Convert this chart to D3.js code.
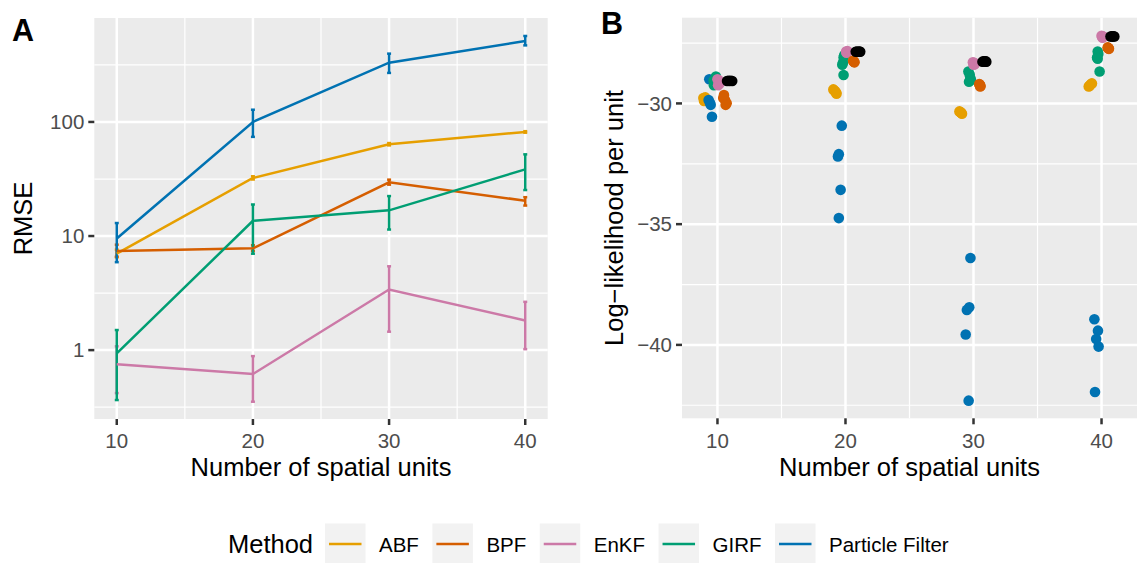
<!DOCTYPE html>
<meta charset="utf-8">
<style>
body { margin: 0; background: #fff; }
text { font-family: "Liberation Sans", Arial, sans-serif; }
.tick-label { font-size: 20.5px; fill: #4D4D4D; }
.axis-title { font-size: 25.5px; fill: #000; }
.tag { font-size: 30.5px; font-weight: bold; fill: #000; }
</style>
<svg width="1137" height="563" id="fig"></svg>
<script src="https://cdnjs.cloudflare.com/ajax/libs/d3/7.8.5/d3.min.js"></script>
<script>

// ---- data ----
var methods = ["ABF", "BPF", "EnKF", "GIRF", "Particle Filter"];
var methodColors = ["#E69F00", "#D55E00", "#CC79A7", "#009E73", "#0072B2"];
var nUnits = [10, 20, 30, 40];

// panel A : RMSE (mean, lower, upper) per method
var rmseABF  = [7.0, 32.3, 63.8, 81.7];
var rmseABFlo = [6.5, 31.3, 62.3, 80.5];
var rmseABFhi = [7.6, 33.4, 65.3, 83.0];
var rmseBPF  = [7.4, 7.8, 29.6, 20.4];
var rmseBPFlo = [6.6, 7.4, 28.2, 18.5];
var rmseBPFhi = [8.4, 8.3, 31.2, 21.9];
var rmseEnKF  = [0.75, 0.617, 3.40, 1.82];
var rmseEnKFlo = [0.42, 0.353, 1.45, 1.02];
var rmseEnKFhi = [1.08, 0.886, 5.43, 2.65];
var rmseGIRF  = [0.935, 13.6, 16.8, 38.4];
var rmseGIRFlo = [0.365, 7.0, 11.4, 25.3];
var rmseGIRFhi = [1.5, 18.9, 22.4, 52];
var rmsePF  = [9.5, 100, 331, 512];
var rmsePFlo = [5.9, 74, 269, 469];
var rmsePFhi = [13.0, 128, 397, 567];

// panel B : log-likelihood per unit, [jittered N, value]
var llABF = [[8.9,-29.78],[9.0,-29.82],[8.95,-29.9],[9.05,-29.75],[9.0,-29.85],
  [19.05,-29.42],[19.12,-29.46],[19.2,-29.5],[19.27,-29.56],[19.3,-29.6],
  [28.9,-30.33],[29.0,-30.37],[29.05,-30.4],[29.1,-30.43],[28.95,-30.36],
  [39.0,-29.3],[39.05,-29.28],[39.1,-29.25],[39.18,-29.2],[39.25,-29.17]];
var llPF = [[9.36,-29.0],[9.41,-29.97],[9.31,-29.86],[9.47,-30.06],[9.57,-30.55],
  [19.71,-30.92],[19.48,-32.1],[19.41,-32.2],[19.62,-33.58],[19.48,-34.75],
  [29.76,-36.4],[29.67,-38.44],[29.48,-38.55],[29.39,-39.57],[29.62,-42.31],
  [39.44,-38.94],[39.72,-39.41],[39.58,-39.76],[39.77,-40.07],[39.49,-41.95]];
var llGIRF = [[9.88,-28.89],[9.7,-29.05],[9.75,-29.12],[9.8,-29.2],[9.72,-29.25],
  [19.9,-28.0],[19.85,-28.1],[19.8,-28.32],[19.75,-28.4],[19.85,-28.82],
  [29.6,-28.68],[29.7,-28.8],[29.75,-28.95],[29.8,-29.03],[29.65,-29.1],
  [39.7,-27.85],[39.75,-27.95],[39.65,-28.1],[39.7,-28.15],[39.85,-28.68]];
var llEnKF = [[10.0,-29.0],[10.1,-29.1],[10.15,-29.2],[10.05,-29.25],[10.12,-29.05],
  [20.05,-27.85],[20.1,-27.88],[20.15,-27.83],[20.08,-27.9],[20.12,-27.86],
  [29.95,-28.3],[30.0,-28.35],[30.05,-28.32],[30.1,-28.38],[30.0,-28.4],
  [40.0,-27.2],[40.05,-27.25],[40.1,-27.22],[40.08,-27.28],[40.12,-27.24]];
var llBPF = [[10.51,-29.65],[10.59,-29.86],[10.72,-29.99],[10.45,-29.78],[10.64,-30.06],
  [20.6,-28.22],[20.65,-28.27],[20.7,-28.3],[20.62,-28.25],[20.68,-28.28],
  [30.45,-29.2],[30.5,-29.25],[30.55,-29.28],[30.48,-29.22],[30.52,-29.3],
  [40.48,-27.68],[40.53,-27.71],[40.58,-27.74],[40.5,-27.7],[40.55,-27.73]];
var llBest = [[10.75,-29.07],[10.85,-29.06],[10.95,-29.07],[11.05,-29.06],[11.15,-29.07],
  [20.8,-27.86],[20.9,-27.85],[21.0,-27.86],[21.1,-27.85],[21.15,-27.86],
  [30.7,-28.27],[30.8,-28.26],[30.85,-28.27],[30.95,-28.26],[31.0,-28.27],
  [40.7,-27.23],[40.8,-27.22],[40.85,-27.23],[40.95,-27.22],[41.0,-27.23]];

var xTicks = [10, 20, 30, 40];
var rmseTicks = [1, 10, 100];
var llTicks = [-40, -35, -30];

// ---- setup ----
var svg = d3.select("#fig");
svg.append("rect").attr("width", 1137).attr("height", 563).attr("fill", "#fff");
var minus = function(v) { return String(v).replace("-", "\u2212"); };

function panelFrame(g, x, y, xMinor, yMajor, yMinor, yFmt) {
  var r = x.range(), h = y.range();
  g.append("rect").attr("x", r[0]).attr("y", h[1]).attr("width", r[1] - r[0]).attr("height", h[0] - h[1])
    .attr("fill", "#EBEBEB");
  yMinor.forEach(function(v) {
    g.append("line").attr("x1", r[0]).attr("x2", r[1]).attr("y1", y(v)).attr("y2", y(v))
      .attr("stroke", "#fff").attr("stroke-width", 1.2);
  });
  xMinor.forEach(function(v) {
    g.append("line").attr("x1", x(v)).attr("x2", x(v)).attr("y1", h[0]).attr("y2", h[1])
      .attr("stroke", "#fff").attr("stroke-width", 1.2);
  });
  yMajor.forEach(function(v) {
    g.append("line").attr("x1", r[0]).attr("x2", r[1]).attr("y1", y(v)).attr("y2", y(v))
      .attr("stroke", "#fff").attr("stroke-width", 2.5);
    g.append("line").attr("x1", r[0] - 6).attr("x2", r[0]).attr("y1", y(v)).attr("y2", y(v))
      .attr("stroke", "#333").attr("stroke-width", 2.5);
    g.append("text").attr("class", "tick-label").attr("x", r[0] - 10).attr("y", y(v) + 7.3)
      .attr("text-anchor", "end").text(yFmt(v));
  });
  xTicks.forEach(function(v) {
    g.append("line").attr("x1", x(v)).attr("x2", x(v)).attr("y1", h[0]).attr("y2", h[1])
      .attr("stroke", "#fff").attr("stroke-width", 2.5);
    g.append("line").attr("x1", x(v)).attr("x2", x(v)).attr("y1", h[0]).attr("y2", h[0] + 6)
      .attr("stroke", "#333").attr("stroke-width", 2.5);
    g.append("text").attr("class", "tick-label").attr("x", x(v)).attr("y", 447.5)
      .attr("text-anchor", "middle").text(v);
  });
  g.append("text").attr("class", "axis-title").attr("x", (r[0] + r[1]) / 2).attr("y", 476)
    .attr("text-anchor", "middle").text("Number of spatial units");
}

// ---- panel A ----
var xA = d3.scaleLinear().domain([8.35, 41.65]).range([94.3, 547.7]);
var yA = d3.scaleLog().domain([0.249, 815]).range([419, 18]);
var gA = svg.append("g");
panelFrame(gA, xA, yA, [15, 25, 35], rmseTicks, [0.316, 3.16, 31.6, 316], function(v) { return v; });
gA.append("text").attr("class", "axis-title").attr("transform", "translate(32,218.5) rotate(-90)")
  .attr("text-anchor", "middle").text("RMSE");
gA.append("text").attr("class", "tag").attr("x", 12).attr("y", 41).text("A");

var rmse = [
  [rmseABF, rmseABFlo, rmseABFhi],
  [rmseBPF, rmseBPFlo, rmseBPFhi],
  [rmseEnKF, rmseEnKFlo, rmseEnKFhi],
  [rmseGIRF, rmseGIRFlo, rmseGIRFhi],
  [rmsePF, rmsePFlo, rmsePFhi]
];
var line = d3.line().x(function(d) { return xA(d[0]); }).y(function(d) { return yA(d[1]); });
rmse.forEach(function(s, i) {
  var col = methodColors[i];
  nUnits.forEach(function(n, j) {
    gA.append("line").attr("x1", xA(n)).attr("x2", xA(n)).attr("y1", yA(s[1][j])).attr("y2", yA(s[2][j]))
      .attr("stroke", col).attr("stroke-width", 2.5);
    [s[1][j], s[2][j]].forEach(function(v) {
      gA.append("line").attr("x1", xA(n) - 2).attr("x2", xA(n) + 2).attr("y1", yA(v)).attr("y2", yA(v))
        .attr("stroke", col).attr("stroke-width", 2.5);
    });
  });
});
rmse.forEach(function(s, i) {
  gA.append("path").datum(d3.zip(nUnits, s[0])).attr("d", line)
    .attr("fill", "none").attr("stroke", methodColors[i]).attr("stroke-width", 2.5);
});

// ---- panel B ----
var xB = d3.scaleLinear().domain([7.23, 42.77]).range([682, 1137]);
var yB = d3.scaleLinear().domain([-43.04, -26.45]).range([418.3, 17.7]);
var gB = svg.append("g");
panelFrame(gB, xB, yB, [15, 25, 35], llTicks, [-42.5, -37.5, -32.5, -27.5], minus);
gB.append("text").attr("class", "axis-title").attr("transform", "translate(623,218) rotate(-90)")
  .attr("text-anchor", "middle").text("Log\u2212likelihood per unit");
gB.append("text").attr("class", "tag").attr("x", 601).attr("y", 34).text("B");

var pointSets = [[llABF, "#E69F00"], [llPF, "#0072B2"], [llGIRF, "#009E73"],
                 [llEnKF, "#CC79A7"], [llBPF, "#D55E00"], [llBest, "#000000"]];
pointSets.forEach(function(p) {
  gB.selectAll(null).data(p[0]).enter().append("circle")
    .attr("cx", function(d) { return xB(d[0]); })
    .attr("cy", function(d) { return yB(d[1]); })
    .attr("r", 5.3).attr("fill", p[1]);
});

// ---- legend ----
var leg = svg.append("g");
leg.append("text").attr("class", "axis-title").attr("x", 228).attr("y", 553).text("Method");
var kx = 325;
methods.forEach(function(m, i) {
  leg.append("rect").attr("x", kx).attr("y", 523.5).attr("width", 40.5).attr("height", 40).attr("fill", "#F2F2F2");
  leg.append("line").attr("x1", kx + 4).attr("x2", kx + 36.5).attr("y1", 544).attr("y2", 544)
    .attr("stroke", methodColors[i]).attr("stroke-width", 2.7);
  var t = leg.append("text").attr("class", "tick-label").style("fill", "#000")
    .attr("x", kx + 54).attr("y", 551.5).text(m);
  kx = kx + 54 + t.node().getComputedTextLength() + 13.5;
});
</script>
